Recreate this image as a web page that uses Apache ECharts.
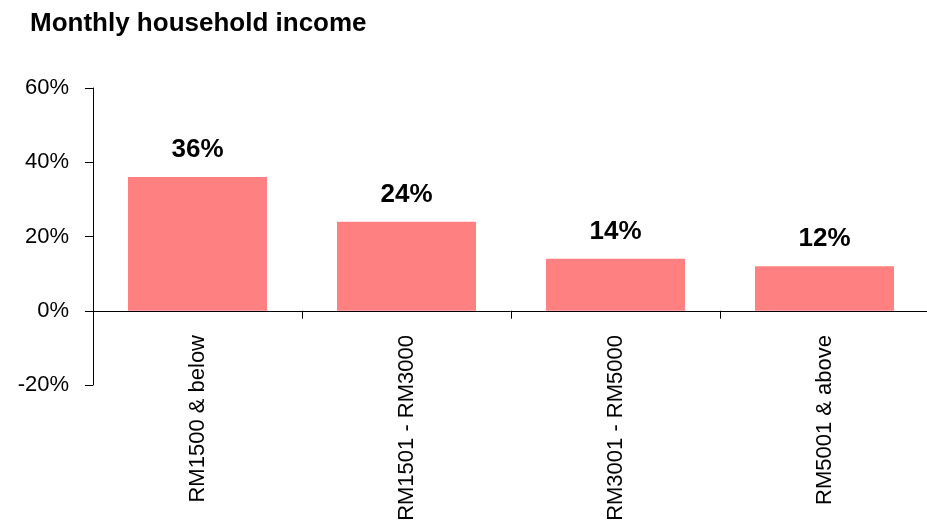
<!DOCTYPE html>
<html>
<head>
<meta charset="utf-8">
<script src="https://cdn.jsdelivr.net/npm/echarts@6/dist/echarts.min.js"></script>
<style>
  html, body { margin: 0; padding: 0; background: #fff; }
  #main { width: 927px; height: 523px; }
</style>
</head>
<body>
<div id="main"></div>
<script>
var categories = ['RM1500 & below', 'RM1501 - RM3000', 'RM3001 - RM5000', 'RM5001 & above'];
var shares = [36, 24, 14, 12];
var yTicks = { min: -20, max: 60, interval: 20 };

var chart = echarts.init(document.getElementById('main'));
var font = 'Arial, "Liberation Sans", sans-serif';

var option = {
  animation: false,
  title: {
    text: 'Monthly household income',
    left: 25,
    top: 6,
    textStyle: { fontFamily: font, fontSize: 26, fontWeight: 'bold', color: '#000' }
  },
  grid: { left: 93, top: 88, width: 836, height: 297, outerBoundsMode: 'none', containLabel: false },
  xAxis: {
    type: 'category',
    data: categories,
    axisLine: { lineStyle: { color: '#000', width: 1 } },
    axisTick: { show: true, length: 8, lineStyle: { color: '#000' } },
    axisLabel: {
      rotate: 90,
      margin: -50,
      fontFamily: font,
      fontSize: 22,
      color: '#000'
    }
  },
  yAxis: {
    type: 'value',
    min: yTicks.min,
    max: yTicks.max,
    interval: yTicks.interval,
    splitLine: { show: false },
    axisLine: { show: true, lineStyle: { color: '#000', width: 1 } },
    axisTick: { show: true, length: 8, lineStyle: { color: '#000' } },
    axisLabel: {
      formatter: '{value}%',
      margin: 24,
      fontFamily: font,
      fontSize: 22,
      color: '#000'
    }
  },
  series: [{
    type: 'bar',
    data: shares,
    barWidth: '66.5%',
    itemStyle: { color: '#FF8080' },
    label: {
      show: true,
      position: 'top',
      distance: 14,
      formatter: '{c}%',
      fontFamily: font,
      fontSize: 26,
      fontWeight: 'bold',
      color: '#000'
    }
  }]
};

chart.setOption(option);
</script>
</body>
</html>
